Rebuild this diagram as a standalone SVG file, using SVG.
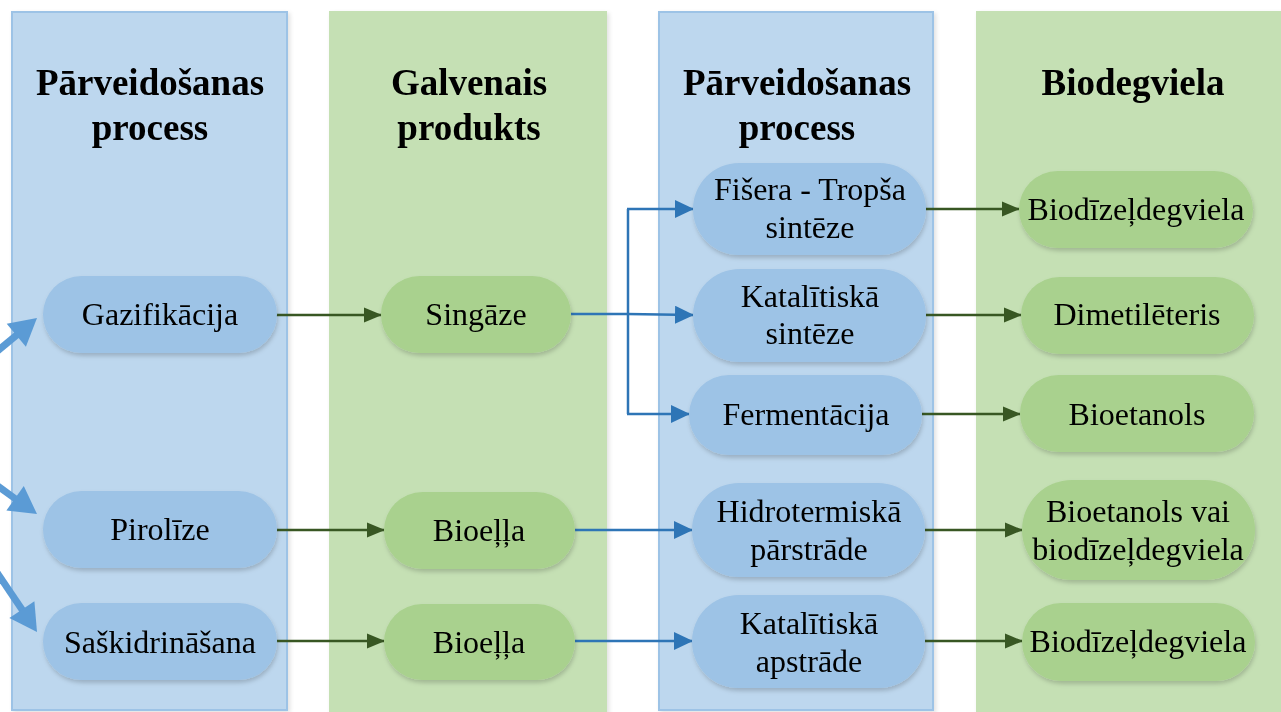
<svg xmlns="http://www.w3.org/2000/svg" width="1281" height="712" viewBox="0 0 1281 712">
  <defs>
    <filter id="sh" x="-10%" y="-10%" width="120%" height="130%">
      <feDropShadow dx="1" dy="3" stdDeviation="2" flood-color="#000" flood-opacity="0.18"/>
    </filter>
    <filter id="shc" x="-5%" y="-5%" width="110%" height="110%">
      <feDropShadow dx="2" dy="2" stdDeviation="2" flood-color="#000" flood-opacity="0.12"/>
    </filter>
    <marker id="ag" markerUnits="userSpaceOnUse" markerWidth="18" markerHeight="16" viewBox="0 0 18 16" refX="17" refY="8" orient="auto">
      <path d="M0,0.5 L18,8 L0,15.5 Z" fill="#385723"/>
    </marker>
    <marker id="ab" markerUnits="userSpaceOnUse" markerWidth="19" markerHeight="18" viewBox="0 0 19 18" refX="18" refY="9" orient="auto">
      <path d="M0,0 L19,9 L0,18 Z" fill="#2e75b6"/>
    </marker>
  </defs>
  <style>
    .colb { fill: #bdd7ee; stroke: #9dc3e6; stroke-width: 2; }
    .colg { fill: #c5e0b4; stroke: #c5e0b4; stroke-width: 2; }
    .nb { fill: #9dc3e6; }
    .ng { fill: #a9d18e; }
    .title { font-family: "Liberation Serif", "Times New Roman", serif; font-weight: bold; font-size: 37px; fill: #000; text-anchor: middle; }
    .lbl { font-family: "Liberation Serif", "Times New Roman", serif; font-size: 32px; fill: #000; text-anchor: middle; }
    .cg { stroke: #385723; stroke-width: 2.5; fill: none; marker-end: url(#ag); }
    .cb { stroke: #2e75b6; stroke-width: 2.5; fill: none; }
    .cba { stroke: #2e75b6; stroke-width: 2.5; fill: none; marker-end: url(#ab); }
    .ts { stroke: #5b9bd5; stroke-width: 7; fill: none; }
    .th { fill: #5b9bd5; }
  </style>

  <rect width="1281" height="712" fill="#ffffff"/>

  <g id="columns">
    <g id="col1" filter="url(#shc)">
      <rect class="colb" x="12" y="12" width="275" height="698"/>
      <text class="title" x="150" y="95">Pārveidošanas</text>
      <text class="title" x="150" y="140">process</text>
    </g>
    <g id="col2" filter="url(#shc)">
      <rect class="colg" x="330" y="12" width="276" height="702"/>
      <text class="title" x="469" y="95">Galvenais</text>
      <text class="title" x="469" y="140">produkts</text>
    </g>
    <g id="col3" filter="url(#shc)">
      <rect class="colb" x="659" y="12" width="274" height="698"/>
      <text class="title" x="797" y="95">Pārveidošanas</text>
      <text class="title" x="797" y="140">process</text>
    </g>
    <g id="col4" filter="url(#shc)">
      <rect class="colg" x="977" y="12" width="310" height="702"/>
      <text class="title" x="1133" y="95">Biodegviela</text>
    </g>
  </g>

  <g id="connectors">
    <g id="in1">
      <line class="ts" x1="-5" y1="353" x2="18" y2="334"/>
      <polygon class="th" points="37,318 25.9,346.8 6.7,323.8"/>
    </g>
    <g id="in2">
      <line class="ts" x1="-5" y1="484" x2="17" y2="500"/>
      <polygon class="th" points="37,514 6.4,510.5 23.8,486.1"/>
    </g>
    <g id="in3">
      <line class="ts" x1="-4" y1="571" x2="23" y2="611"/>
      <polygon class="th" points="37,632 9.4,618 34.4,601.2"/>
    </g>

    <line class="cg" x1="276" y1="315" x2="381" y2="315"/>
    <line class="cg" x1="277" y1="530" x2="384" y2="530"/>
    <line class="cg" x1="277" y1="641" x2="384" y2="641"/>

    <line class="cb" x1="571" y1="314" x2="628" y2="314"/>
    <polyline class="cb" points="628,209 628,414"/>
    <line class="cba" x1="627" y1="209" x2="693" y2="209"/>
    <line class="cba" x1="627" y1="314" x2="693" y2="315"/>
    <line class="cba" x1="627" y1="414" x2="689" y2="414"/>
    <line class="cba" x1="575" y1="530" x2="692" y2="530"/>
    <line class="cba" x1="575" y1="641" x2="692" y2="641"/>

    <line class="cg" x1="926" y1="209" x2="1019" y2="209"/>
    <line class="cg" x1="926" y1="315" x2="1021" y2="315"/>
    <line class="cg" x1="922" y1="414" x2="1020" y2="414"/>
    <line class="cg" x1="925" y1="530" x2="1022" y2="530"/>
    <line class="cg" x1="925" y1="641" x2="1022" y2="641"/>
  </g>

  <g id="nodes">
    <g id="gazifikacija" filter="url(#sh)">
      <rect class="nb" x="43" y="276" width="234" height="77" rx="38.5"/>
      <text class="lbl" x="160" y="325">Gazifikācija</text>
    </g>
    <g id="piroliize" filter="url(#sh)">
      <rect class="nb" x="43" y="491" width="234" height="77" rx="38.5"/>
      <text class="lbl" x="160" y="540">Pirolīze</text>
    </g>
    <g id="saskidrinasana" filter="url(#sh)">
      <rect class="nb" x="43" y="603" width="234" height="77" rx="38.5"/>
      <text class="lbl" x="160" y="653">Saškidrināšana</text>
    </g>

    <g id="singaze" filter="url(#sh)">
      <rect class="ng" x="381" y="276" width="190" height="77" rx="38.5"/>
      <text class="lbl" x="476" y="325">Singāze</text>
    </g>
    <g id="bioella1" filter="url(#sh)">
      <rect class="ng" x="384" y="492" width="191" height="77" rx="38.5"/>
      <text class="lbl" x="479" y="541">Bioeļļa</text>
    </g>
    <g id="bioella2" filter="url(#sh)">
      <rect class="ng" x="384" y="604" width="191" height="76" rx="38"/>
      <text class="lbl" x="479" y="653">Bioeļļa</text>
    </g>

    <g id="fisera" filter="url(#sh)">
      <rect class="nb" x="693" y="163" width="233" height="92" rx="46"/>
      <text class="lbl" x="810" y="200">Fišera - Tropša</text>
      <text class="lbl" x="810" y="238">sintēze</text>
    </g>
    <g id="katalitiska-sinteze" filter="url(#sh)">
      <rect class="nb" x="693" y="269" width="233" height="93" rx="46.5"/>
      <text class="lbl" x="810" y="307">Katalītiskā</text>
      <text class="lbl" x="810" y="344">sintēze</text>
    </g>
    <g id="fermentacija" filter="url(#sh)">
      <rect class="nb" x="689" y="375" width="233" height="80" rx="40"/>
      <text class="lbl" x="806" y="425">Fermentācija</text>
    </g>
    <g id="hidrotermiska" filter="url(#sh)">
      <rect class="nb" x="692" y="483" width="233" height="94" rx="47"/>
      <text class="lbl" x="809" y="522">Hidrotermiskā</text>
      <text class="lbl" x="809" y="560">pārstrāde</text>
    </g>
    <g id="katalitiska-apstrade" filter="url(#sh)">
      <rect class="nb" x="692" y="595" width="233" height="93" rx="46.5"/>
      <text class="lbl" x="809" y="634">Katalītiskā</text>
      <text class="lbl" x="809" y="672">apstrāde</text>
    </g>

    <g id="biodizel1" filter="url(#sh)">
      <rect class="ng" x="1019" y="171" width="234" height="77" rx="38.5"/>
      <text class="lbl" x="1136" y="220">Biodīzeļdegviela</text>
    </g>
    <g id="dimetileteris" filter="url(#sh)">
      <rect class="ng" x="1021" y="277" width="233" height="77" rx="38.5"/>
      <text class="lbl" x="1137" y="325">Dimetilēteris</text>
    </g>
    <g id="bioetanols" filter="url(#sh)">
      <rect class="ng" x="1020" y="375" width="234" height="77" rx="38.5"/>
      <text class="lbl" x="1137" y="425">Bioetanols</text>
    </g>
    <g id="bioetanols-vai" filter="url(#sh)">
      <rect class="ng" x="1022" y="480" width="233" height="100" rx="50"/>
      <text class="lbl" x="1138" y="522">Bioetanols vai</text>
      <text class="lbl" x="1138" y="560">biodīzeļdegviela</text>
    </g>
    <g id="biodizel2" filter="url(#sh)">
      <rect class="ng" x="1022" y="603" width="233" height="78" rx="39"/>
      <text class="lbl" x="1138" y="652">Biodīzeļdegviela</text>
    </g>
  </g>
</svg>
